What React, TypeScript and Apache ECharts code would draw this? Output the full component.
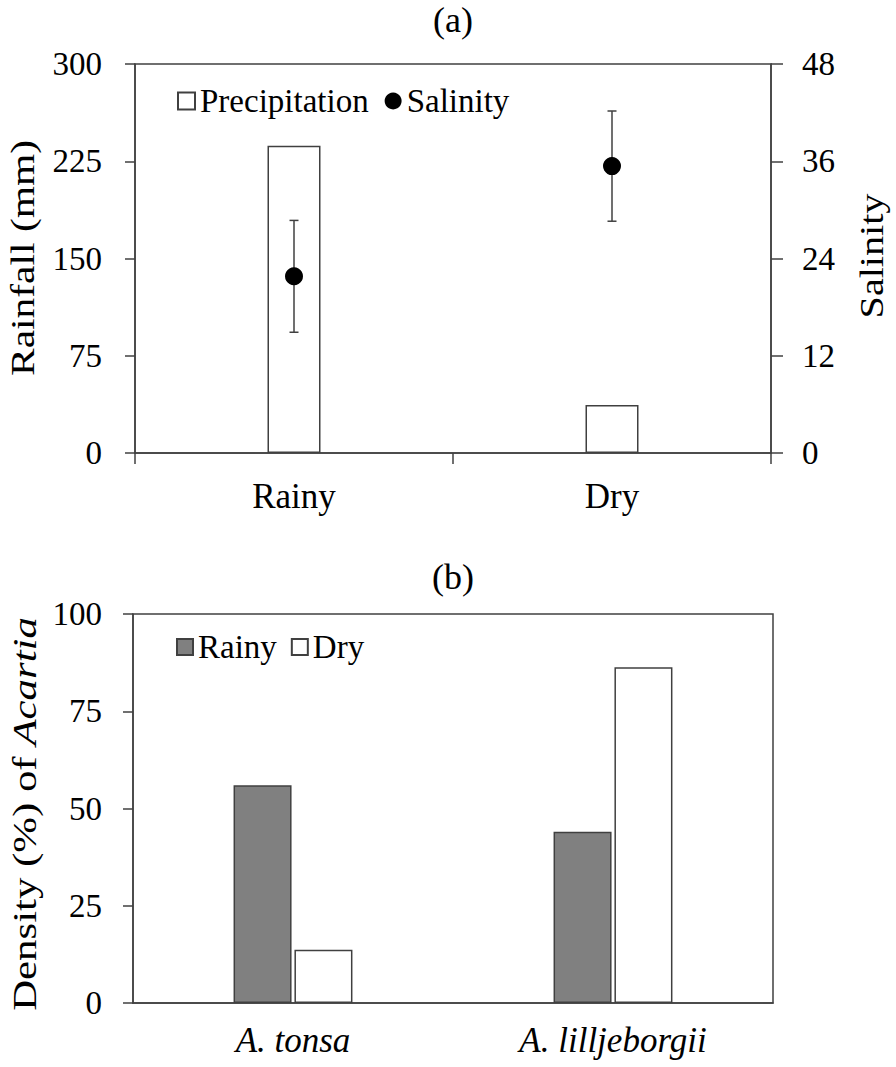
import React, { useEffect, useRef } from 'react';
import * as echarts from 'echarts';

// Panel (a)
const seasons = ['Rainy', 'Dry'];
const rainfallMm = [237, 37];
const salinityMean = [21.8, 35.4];
const salinitySd = [6.9, 6.8];

// Panel (b)
const species = ['A. tonsa', 'A. lilljeborgii'];
const densityRainy = [56, 44];
const densityDry = [13.7, 86.3];

const FONT = "'Liberation Serif', 'Times New Roman', serif";
const AXIS = '#404040';

export default function App() {
  const ref = useRef<HTMLDivElement>(null);
  useEffect(() => {
    if (!ref.current) return;
    const chart = echarts.init(ref.current, undefined, { renderer: 'svg' });
    const errData = seasons.map((_, i) => [i, salinityMean[i] - salinitySd[i], salinityMean[i] + salinitySd[i]]);
    const tickLabel = { color: '#000', fontFamily: FONT, fontSize: 33 };
    const axTitle = (text: string, x: number, y: number, sx: number, rich?: any) => ({
      type: 'text', x, y, rotation: Math.PI / 2, scaleX: sx,
      style: {
        text, font: `34px ${FONT}`, fontFamily: FONT, fontSize: 34, fill: '#000',
        textAlign: 'center', textVerticalAlign: 'middle', verticalAlign: 'middle', align: 'center',
        ...(rich ? { rich } : {}),
      },
    });
    const option: any = {
      animation: false,
      backgroundColor: '#fff',
      textStyle: { fontFamily: FONT, color: '#000' },
      title: [
        { text: '(a)', left: 448, top: -3, textAlign: 'center', textStyle: { fontFamily: FONT, fontSize: 36, fontWeight: 'normal', color: '#000' } },
        { text: '(b)', left: 448, top: 554, textAlign: 'center', textStyle: { fontFamily: FONT, fontSize: 36, fontWeight: 'normal', color: '#000' } },
      ],
      grid: [
        { left: 135, right: 125, top: 64, height: 389, show: true, borderColor: AXIS, borderWidth: 1.5, backgroundColor: 'transparent' },
        { left: 133, right: 123, top: 614, height: 389, show: true, borderColor: AXIS, borderWidth: 1.5, backgroundColor: 'transparent' },
      ],
      legend: [
        {
          left: 172, top: 79, itemWidth: 17, itemHeight: 17, itemGap: 16,
          textStyle: { fontFamily: FONT, fontSize: 33, color: '#000', lineHeight: 34 },
          data: [{ name: 'Precipitation', icon: 'rect' }, { name: 'Salinity', icon: 'circle' }],
        },
        {
          left: 171, top: 625, itemWidth: 16, itemHeight: 16, itemGap: 14,
          textStyle: { fontFamily: FONT, fontSize: 33, color: '#000', lineHeight: 34 },
          data: [{ name: 'Rainy', icon: 'rect' }, { name: 'Dry', icon: 'rect' }],
        },
      ],
      xAxis: [
        {
          type: 'category', gridIndex: 0, data: seasons, boundaryGap: true,
          axisLine: { lineStyle: { color: AXIS, width: 1.5 } },
          axisTick: { show: true, length: 11, alignWithLabel: false, interval: 0, lineStyle: { color: AXIS, width: 1.5 } },
          axisLabel: { color: '#000', fontFamily: FONT, fontSize: 35, margin: 26 },
        },
        {
          type: 'category', gridIndex: 1, data: species, boundaryGap: true,
          axisLine: { lineStyle: { color: AXIS, width: 1.5 } },
          axisTick: { show: false },
          axisLabel: { color: '#000', fontFamily: FONT, fontSize: 35, fontStyle: 'italic', margin: 20 },
        },
      ],
      yAxis: [
        {
          type: 'value', gridIndex: 0, min: 0, max: 300, interval: 75, position: 'left',
          axisLine: { show: true, lineStyle: { color: AXIS, width: 1.5 } },
          axisTick: { show: true, length: 10, lineStyle: { color: AXIS, width: 1.5 } },
          axisLabel: { ...tickLabel, margin: 33 },
          splitLine: { show: false },
        },
        {
          type: 'value', gridIndex: 0, min: 0, max: 48, interval: 12, position: 'right',
          axisLine: { show: true, lineStyle: { color: AXIS, width: 1.5 } },
          axisTick: { show: true, length: 12, lineStyle: { color: AXIS, width: 1.5 } },
          axisLabel: { ...tickLabel, margin: 31 },
          splitLine: { show: false },
        },
        {
          type: 'value', gridIndex: 1, min: 0, max: 100, interval: 25, position: 'left',
          axisLine: { show: true, lineStyle: { color: AXIS, width: 1.5 } },
          axisTick: { show: true, length: 10, lineStyle: { color: AXIS, width: 1.5 } },
          axisLabel: { ...tickLabel, margin: 31 },
          splitLine: { show: false },
        },
      ],
      series: [
        {
          name: 'Precipitation', type: 'bar', xAxisIndex: 0, yAxisIndex: 0, data: rainfallMm, barWidth: 53,
          itemStyle: { color: '#fff', borderColor: AXIS, borderWidth: 1.5 },
        },
        {
          name: 'SalinityError', type: 'custom', xAxisIndex: 0, yAxisIndex: 1, data: errData, z: 3,
          encode: { x: 0, y: [1, 2] },
          renderItem: (params: any, api: any) => {
            const x = api.value(0);
            const lo = api.coord([x, api.value(1)]);
            const hi = api.coord([x, api.value(2)]);
            const hw = 4.5;
            const style = { stroke: AXIS, lineWidth: 1.5, fill: 'none' };
            return {
              type: 'group',
              children: [
                { type: 'line', shape: { x1: lo[0], y1: lo[1], x2: hi[0], y2: hi[1] }, style },
                { type: 'line', shape: { x1: lo[0] - hw, y1: lo[1], x2: lo[0] + hw, y2: lo[1] }, style },
                { type: 'line', shape: { x1: hi[0] - hw, y1: hi[1], x2: hi[0] + hw, y2: hi[1] }, style },
              ],
            };
          },
        },
        {
          name: 'Salinity', type: 'scatter', xAxisIndex: 0, yAxisIndex: 1, data: salinityMean, z: 5,
          symbol: 'circle', symbolSize: 18, itemStyle: { color: '#000', opacity: 1 },
        },
        {
          name: 'Rainy', type: 'bar', xAxisIndex: 1, yAxisIndex: 2, data: densityRainy, barWidth: 58, barGap: '5%',
          itemStyle: { color: '#808080', borderColor: AXIS, borderWidth: 1.5 },
        },
        {
          name: 'Dry', type: 'bar', xAxisIndex: 1, yAxisIndex: 2, data: densityDry, barWidth: 58, barGap: '5%',
          itemStyle: { color: '#fff', borderColor: AXIS, borderWidth: 1.5 },
        },
      ],
      graphic: [
        axTitle('Rainfall (mm)', 22, 258, 1.22),
        axTitle('Salinity', 872, 256, 1.18),
        axTitle('Density (%) of {i|Acartia}', 25, 814, 1.26, {
          i: { fontStyle: 'italic', fontFamily: FONT, fontSize: 34, fill: '#000' },
        }),
      ],
    };
    chart.setOption(option);
    return () => chart.dispose();
  }, []);
  return <div ref={ref} style={{ position: 'absolute', left: 0, top: 0, width: 896, height: 1067 }} />;
}
